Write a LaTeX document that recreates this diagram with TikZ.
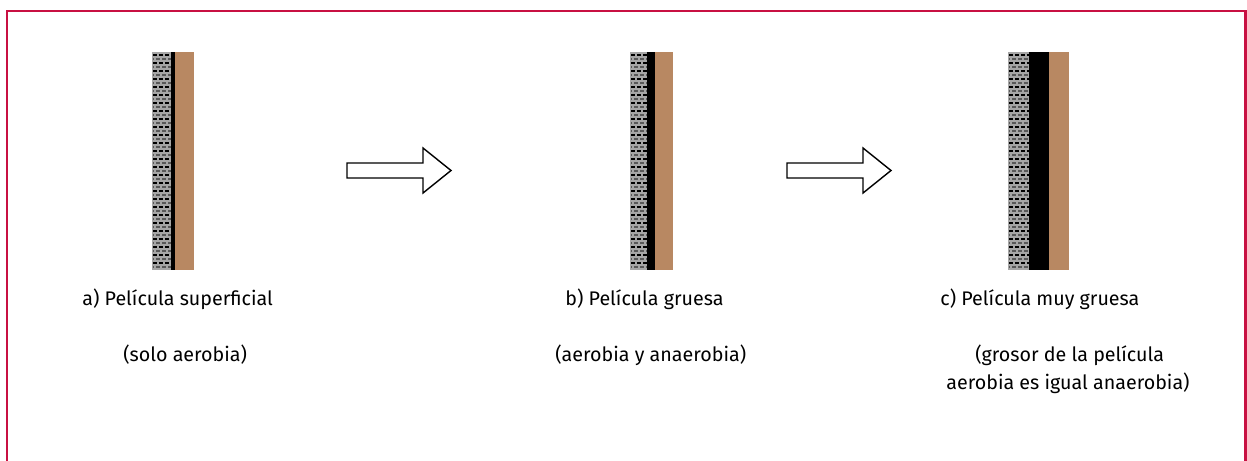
\documentclass[tikz,border=0pt]{standalone}
\usepackage{fontspec}
\setmainfont{Fira Sans}
\usepackage{tikz}
\usetikzlibrary{calc}
\usepackage{xcolor}
\definecolor{frame}{RGB}{200,16,66}
\definecolor{sand}{RGB}{166,166,166}
\definecolor{soil}{RGB}{184,136,98}

\begin{document}
\begin{tikzpicture}[x=0.02cm,y=-0.02cm,font=\fontsize{11.2}{14}\selectfont]
    \useasboundingbox (0,0) rectangle (1247,460);
    % Frame (open at the bottom)
    \draw[frame, line width=1.7pt] (7,470) -- (7,11) -- (1245,11) -- (1245,470);

    % Films: gravel / biofilm / support
    \foreach \xa/\xb/\xc/\xd in {152/171/175/194, 630/647/655/673, 1008/1029/1049/1069} {
        \fill[sand] (\xa,52) rectangle (\xb,270);
        \foreach \yy in {55,63,...,267}
            \draw[black, line width=0.7pt, dash pattern=on 2.2pt off 1.2pt] (\xa+1,\yy) -- (\xb,\yy);
        \foreach \yy in {59,67,...,267}
            \draw[black!65, line width=0.7pt, dash pattern=on 2.2pt off 1.2pt, dash phase=1.6pt] (\xa+1,\yy) -- (\xb,\yy);
        \fill[black] (\xb,52) rectangle (\xc,270);
        \fill[soil] (\xc,52) rectangle (\xd,270);
    }

    % Arrows
    \foreach \xs in {347, 787} {
        \draw[thick, fill=white, line join=miter]
            (\xs,163) -- (\xs+76,163) -- (\xs+76,148) -- (\xs+104,170.5)
            -- (\xs+76,193) -- (\xs+76,178) -- (\xs,178) -- cycle;
    }

    % Labels
    \tikzset{every node/.style={anchor=base west, inner sep=0pt}}
    \node (ta) at (82,305) {a) Película superficial};
    \node (sa) at (123,361) {(solo aerobia)};
    \node (tb) at (565,305) {b) Película gruesa};
    \node (sb) at (555,361) {(aerobia y anaerobia)};
    \node (tc) at (940,305) {c) Película muy gruesa};
    \node (sc) at (975,361) {(grosor de la película};
    \node (uc) at (946,389) {aerobia es igual anaerobia)};
\end{tikzpicture}
\end{document}
